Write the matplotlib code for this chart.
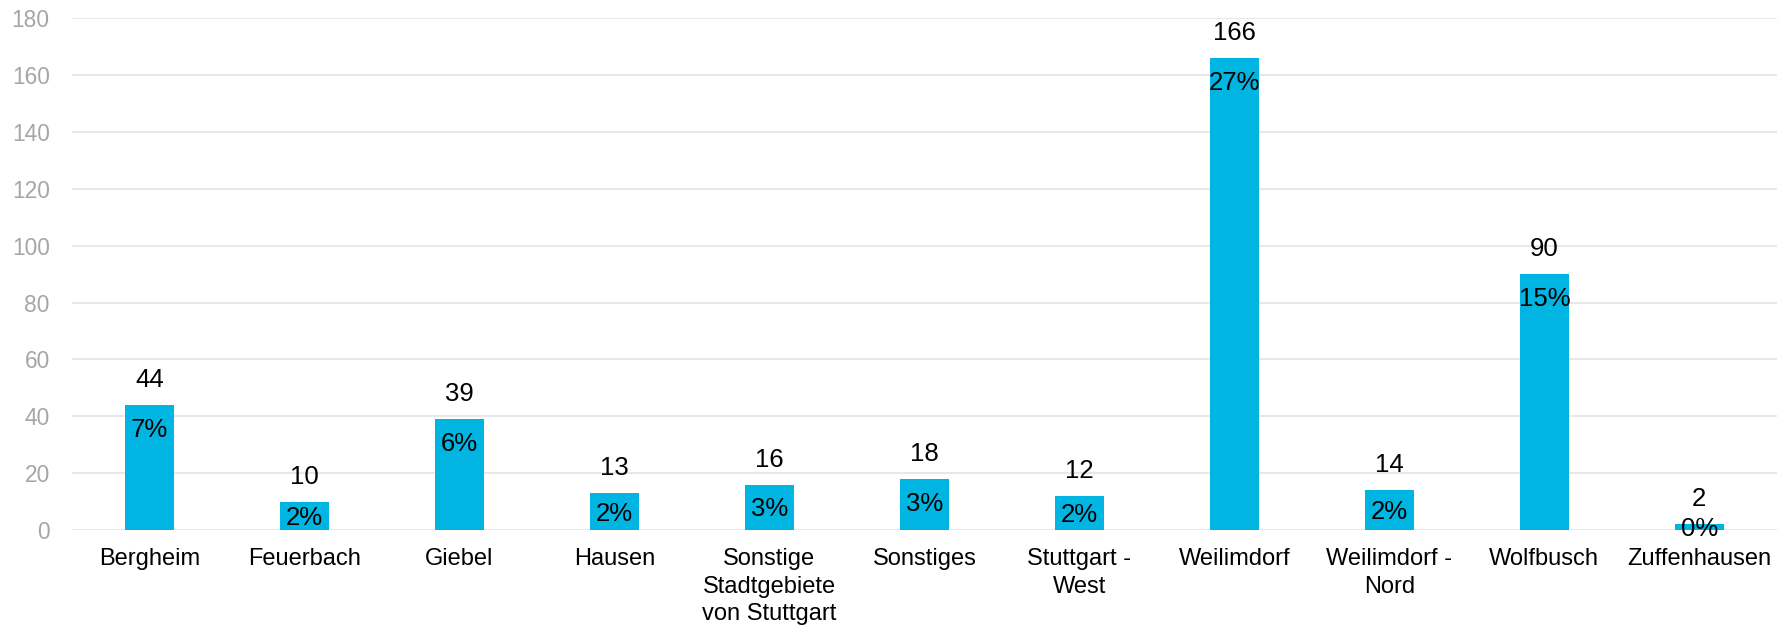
import numpy as np
import matplotlib.pyplot as plt

categories = ['Bergheim', 'Feuerbach', 'Giebel', 'Hausen',
              'Sonstige\nStadtgebiete\nvon Stuttgart', 'Sonstiges',
              'Stuttgart -\nWest', 'Weilimdorf', 'Weilimdorf -\nNord',
              'Wolfbusch', 'Zuffenhausen']
counts = [44, 10, 39, 13, 16, 18, 12, 166, 14, 90, 2]
shares = ['7%', '2%', '6%', '2%', '3%', '3%', '2%', '27%', '2%', '15%', '0%']

plt.rcParams['font.family'] = ['Liberation Sans', 'DejaVu Sans']

fig = plt.figure(figsize=(17.89, 6.28), dpi=100)
ax = fig.add_axes([0.0402, 0.156, 0.953, 0.8148])

x = np.arange(len(categories))
ax.bar(x, counts, width=0.313, color='#00B5E2', zorder=2)

ax.set_xlim(-0.5, len(categories) - 0.5)
ax.set_ylim(0, 180)

# pixel height of each bar, to keep the share label inside short bars
px_per_unit = (ax.transData.transform((0, 1))[1] - ax.transData.transform((0, 0))[1])

# count above bar, share inside the bar top
for xi, c, s in zip(x, counts, shares):
    h = c * px_per_unit
    ax.annotate(str(c), (xi, c), xytext=(0, 25), textcoords='offset pixels',
                ha='center', va='center', fontsize=18.5, color='black')
    ax.annotate(s, (xi, c), xytext=(0, -min(25, h / 2 + 2)), textcoords='offset pixels',
                ha='center', va='center', fontsize=18.5, color='black')

ax.set_yticks(np.arange(0, 181, 20))
ax.yaxis.grid(True, color='#E8E8E8', linewidth=1.5, zorder=0)
ax.set_axisbelow(True)
ax.set_xticks(x)
ax.set_xticklabels(categories, fontsize=17, color='black', linespacing=1.33)
ax.tick_params(axis='x', length=0, pad=13)
ax.tick_params(axis='y', length=0, pad=16, labelsize=16.4, labelcolor='#A6A6A6')
for sp in ax.spines.values():
    sp.set_visible(False)

fig.savefig('out.png', dpi=100)
